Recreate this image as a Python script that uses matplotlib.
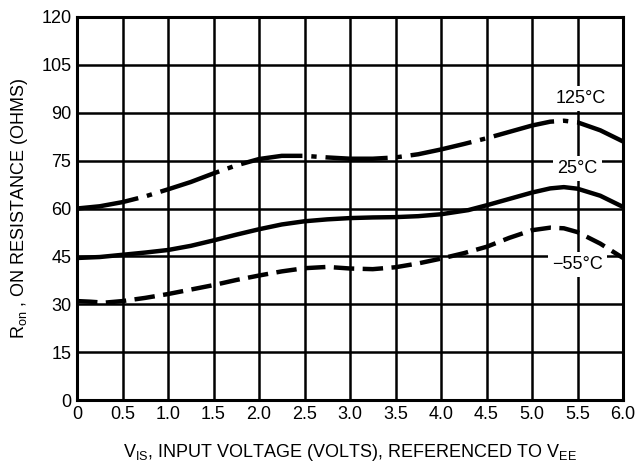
import numpy as np
import matplotlib.pyplot as plt
from matplotlib import font_manager

names = {f.name for f in font_manager.fontManager.ttflist}
fam = 'Liberation Sans Narrow' if 'Liberation Sans Narrow' in names else 'Liberation Sans'
plt.rcParams['font.family'] = [fam, 'DejaVu Sans']
plt.rcParams['mathtext.fontset'] = 'custom'
plt.rcParams['mathtext.rm'] = fam

# on resistance vs input voltage
v_125 = [0, 0.25, 0.5, 0.75, 1.0, 1.25, 1.5, 1.75, 2.0, 2.25, 2.5, 2.75, 3.0, 3.25, 3.5, 3.75, 4.0, 4.25, 4.5, 4.75, 5.0, 5.2, 5.35, 5.5, 5.75, 6.0]
r_125 = [60, 60.7, 62, 63.8, 66, 68.3, 71, 73.5, 75.5, 76.5, 76.5, 76, 75.6, 75.6, 76, 77, 78.5, 80.2, 82, 84, 86, 87.2, 87.5, 87, 84.5, 81]

v_25 = [0, 0.25, 0.5, 0.75, 1.0, 1.25, 1.5, 1.75, 2.0, 2.25, 2.5, 2.75, 3.0, 3.25, 3.5, 3.75, 4.0, 4.3, 4.5, 4.75, 5.0, 5.2, 5.35, 5.5, 5.75, 6.0]
r_25 = [44.5, 44.8, 45.5, 46.2, 47, 48.3, 50, 51.8, 53.5, 55, 56, 56.6, 57, 57.2, 57.3, 57.6, 58.2, 59.5, 61, 63, 65, 66.3, 66.7, 66.2, 64, 60.5]

v_m55 = [0, 0.15, 0.3, 0.5, 0.75, 1.0, 1.25, 1.5, 1.75, 2.0, 2.25, 2.5, 2.75, 3.0, 3.25, 3.5, 3.75, 4.0, 4.25, 4.5, 4.75, 5.0, 5.2, 5.35, 5.5, 5.75, 6.0]
r_m55 = [31, 30.8, 30.5, 31, 32, 33.2, 34.6, 36, 37.6, 39, 40.3, 41.3, 41.7, 41.2, 41, 41.6, 42.8, 44.3, 46, 48, 50.8, 53.2, 54, 53.8, 52.6, 49, 44.5]

xticks = [0, 0.5, 1.0, 1.5, 2.0, 2.5, 3.0, 3.5, 4.0, 4.5, 5.0, 5.5, 6.0]
xlabels = ['0', '0.5', '1.0', '1.5', '2.0', '2.5', '3.0', '3.5', '4.0', '4.5', '5.0', '5.5', '6.0']
yticks = [0, 15, 30, 45, 60, 75, 90, 105, 120]

fig = plt.figure(figsize=(6.39, 4.72), dpi=100)
ax = fig.add_axes([0.1205, 0.1525, 0.8545, 0.8115])

ax.plot(v_125, r_125, color='black', lw=3.2, dashes=(14, 2.0, 1.2, 2.0), dash_capstyle='butt')
ax.plot(v_25, r_25, color='black', lw=3.2, solid_capstyle='butt')
ax.plot(v_m55, r_m55, color='black', lw=3.2, dashes=(4.6, 1.9), dash_capstyle='butt')

box = dict(facecolor='white', edgecolor='none', pad=3)
ax.text(5.53, 94.5, '125°C', fontsize=13, ha='center', va='center', bbox=box)
ax.text(5.5, 72.5, '25°C', fontsize=13, ha='center', va='center', bbox=box)
ax.text(5.5, 42.5, '\u221255°C', fontsize=13, ha='center', va='center', bbox=box)

ax.set_xlim(0, 6)
ax.set_ylim(0, 120)
ax.set_xticks(xticks)
ax.set_xticklabels(xlabels)
ax.set_yticks(yticks)
ax.tick_params(length=0, labelsize=13, pad=4)
ax.grid(True, color='black', lw=1.8)
ax.set_axisbelow(True)
for s in ax.spines.values():
    s.set_linewidth(2.2)

ax.set_xlabel(r'V$_{\mathregular{IS}}$, INPUT VOLTAGE (VOLTS), REFERENCED TO V$_{\mathregular{EE}}$', fontsize=13, labelpad=14)
ax.set_ylabel(r'R$_{\mathregular{on}}$ , ON RESISTANCE (OHMS)', fontsize=13, labelpad=8)

fig.savefig('out.png', dpi=100)
